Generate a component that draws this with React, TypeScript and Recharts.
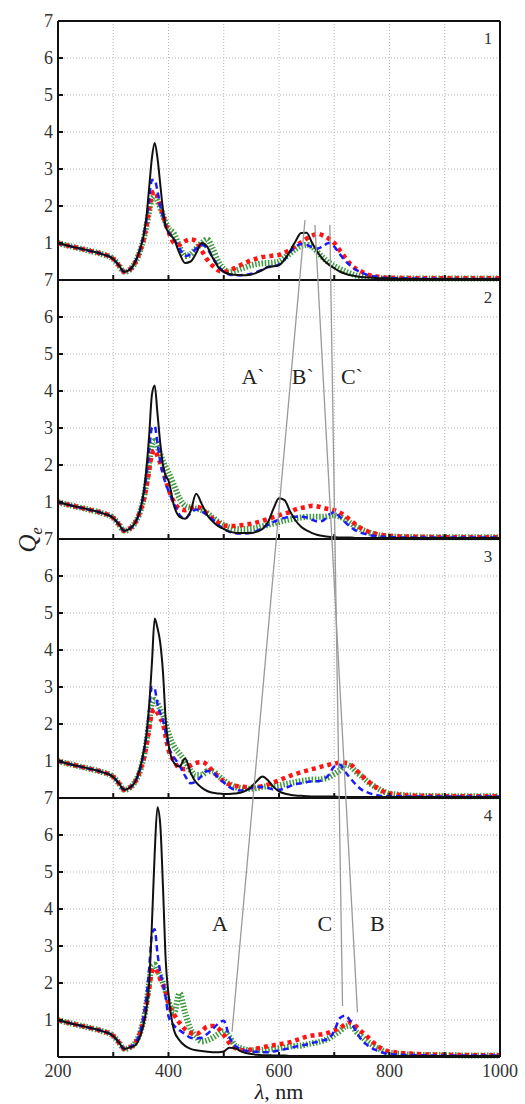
import React from "react";
import { LineChart, Line, XAxis, YAxis, CartesianGrid } from "recharts";

// Extinction efficiency Q_e vs wavelength, four stacked panels.
// Shared wavelength grid (nm), finer around the 370-400 nm resonance.
const WAVELENGTHS = [
  200, 220, 240, 260, 280, 300, 310, 320, 330,
  340, 350, 355, 360, 365, 370, 375, 380, 385, 390, 395,
  400, 410, 420, 430, 440, 450, 460, 470, 480, 490,
  500, 510, 520, 530, 540, 550, 560, 570, 580, 590,
  600, 610, 620, 630, 640, 650, 660, 670, 680, 690,
  700, 710, 720, 730, 740, 750, 760, 770, 780, 790,
  800, 850, 900, 950, 1000,
];

// panel 1
const P1_SOLID = [
  1.0, 0.92, 0.85, 0.78, 0.7, 0.57, 0.4, 0.22, 0.28,
  0.5, 0.9, 1.2, 1.7, 2.5, 3.3, 3.7, 3.3, 2.6, 1.9, 1.45,
  1.28, 1.1, 0.72, 0.46, 0.5, 0.72, 1.0, 0.9, 0.6, 0.35,
  0.22, 0.16, 0.14, 0.13, 0.13, 0.15, 0.2, 0.27, 0.35, 0.37,
  0.4, 0.55, 0.78, 1.05, 1.27, 1.28, 1.0, 0.75, 0.55, 0.42,
  0.32, 0.23, 0.17, 0.13, 0.1, 0.08, 0.07, 0.06, 0.05, 0.05,
  0.04, 0.03, 0.03, 0.03, 0.03,
];
const P1_DASH = [
  1.0, 0.92, 0.85, 0.78, 0.7, 0.57, 0.4, 0.22, 0.28,
  0.5, 0.9, 1.2, 1.6, 2.2, 2.7, 2.7, 2.4, 2.0, 1.7, 1.45,
  1.3, 1.1, 0.85, 0.65, 0.7, 0.85, 0.95, 0.85, 0.6, 0.38,
  0.22, 0.15, 0.13, 0.13, 0.14, 0.17, 0.22, 0.28, 0.35, 0.37,
  0.42, 0.55, 0.75, 0.9, 0.97, 0.95, 0.88, 0.85, 0.92, 1.0,
  0.9, 0.7, 0.52, 0.38, 0.27, 0.2, 0.14, 0.1, 0.08, 0.06,
  0.05, 0.04, 0.03, 0.03, 0.03,
];
const P1_DOT = [
  1.0, 0.92, 0.85, 0.78, 0.7, 0.57, 0.4, 0.22, 0.28,
  0.48, 0.85, 1.1, 1.45, 1.9, 2.3, 2.4, 2.25, 2.0, 1.75, 1.5,
  1.3, 1.0, 0.95, 1.05, 1.1, 1.05, 0.8, 0.55, 0.38, 0.26,
  0.22, 0.26, 0.32, 0.4, 0.47, 0.54, 0.58, 0.62, 0.64, 0.66,
  0.68, 0.74, 0.82, 0.92, 1.02, 1.12, 1.2, 1.25, 1.2, 1.12,
  1.0, 0.8, 0.6, 0.42, 0.3, 0.22, 0.15, 0.11, 0.09, 0.07,
  0.06, 0.05, 0.05, 0.05, 0.05,
];
const P1_HATCH = [
  1.0, 0.92, 0.85, 0.78, 0.7, 0.57, 0.4, 0.22, 0.28,
  0.48, 0.85, 1.1, 1.45, 1.85, 2.2, 2.25, 2.15, 1.95, 1.75, 1.55,
  1.4, 1.25, 0.9, 0.65, 0.7, 0.85, 1.0, 1.1, 0.85, 0.5,
  0.3, 0.22, 0.25, 0.3, 0.35, 0.4, 0.43, 0.45, 0.46, 0.47,
  0.5, 0.6, 0.72, 0.84, 0.92, 0.95, 0.9, 0.75, 0.6, 0.47,
  0.38, 0.3, 0.23, 0.17, 0.12, 0.09, 0.07, 0.06, 0.05, 0.05,
  0.04, 0.04, 0.04, 0.04, 0.04,
];

// panel 2
const P2_SOLID = [
  1.0, 0.92, 0.85, 0.78, 0.7, 0.57, 0.4, 0.22, 0.28,
  0.45, 0.85, 1.25, 1.9, 2.8, 3.9, 4.15, 3.4, 2.6, 2.0, 1.7,
  1.58, 0.9, 0.6, 0.55, 0.75, 1.22, 0.95, 0.65, 0.47, 0.35,
  0.27, 0.2, 0.17, 0.16, 0.16, 0.16, 0.2, 0.27, 0.45, 0.82,
  1.1, 1.05, 0.75, 0.5, 0.33, 0.23, 0.16, 0.11, 0.08, 0.06,
  0.05, 0.04, 0.04, 0.04, 0.03, 0.03, 0.03, 0.03, 0.03, 0.03,
  0.03, 0.03, 0.03, 0.03, 0.03,
];
const P2_DASH = [
  1.0, 0.92, 0.85, 0.78, 0.7, 0.57, 0.4, 0.22, 0.28,
  0.45, 0.85, 1.2, 1.7, 2.4, 3.0, 3.05, 2.6, 2.1, 1.75, 1.5,
  1.3, 0.95, 0.65, 0.55, 0.7, 0.8, 0.75, 0.65, 0.52, 0.38,
  0.27, 0.2, 0.16, 0.15, 0.15, 0.17, 0.22, 0.3, 0.38, 0.46,
  0.52, 0.57, 0.6, 0.6, 0.6, 0.58, 0.52, 0.47, 0.5, 0.65,
  0.72, 0.6, 0.45, 0.32, 0.22, 0.16, 0.12, 0.09, 0.07, 0.06,
  0.05, 0.04, 0.04, 0.04, 0.04,
];
const P2_DOT = [
  1.0, 0.92, 0.85, 0.78, 0.7, 0.57, 0.4, 0.22, 0.28,
  0.45, 0.8, 1.05, 1.4, 1.85, 2.3, 2.4, 2.25, 2.05, 1.85, 1.6,
  1.35, 1.0, 0.82, 0.78, 0.83, 0.87, 0.82, 0.68, 0.55, 0.44,
  0.37, 0.35, 0.35, 0.37, 0.39, 0.41, 0.45, 0.49, 0.54, 0.59,
  0.64, 0.69, 0.73, 0.8, 0.84, 0.87, 0.9, 0.88, 0.84, 0.81,
  0.78, 0.72, 0.62, 0.5, 0.38, 0.28, 0.21, 0.16, 0.12, 0.1,
  0.08, 0.06, 0.05, 0.05, 0.05,
];
const P2_HATCH = [
  1.0, 0.92, 0.85, 0.78, 0.7, 0.57, 0.4, 0.22, 0.28,
  0.45, 0.8, 1.1, 1.5, 2.05, 2.55, 2.65, 2.5, 2.3, 2.1, 1.95,
  1.8, 1.45, 1.1, 0.9, 0.85, 0.82, 0.78, 0.7, 0.58, 0.47,
  0.38, 0.32, 0.28, 0.27, 0.27, 0.28, 0.3, 0.34, 0.38, 0.42,
  0.46, 0.5, 0.53, 0.56, 0.58, 0.6, 0.6, 0.6, 0.6, 0.62,
  0.64, 0.6, 0.52, 0.42, 0.33, 0.25, 0.19, 0.14, 0.1, 0.08,
  0.07, 0.05, 0.05, 0.05, 0.05,
];

// panel 3
const P3_SOLID = [
  1.0, 0.92, 0.85, 0.78, 0.7, 0.57, 0.4, 0.22, 0.28,
  0.45, 0.9, 1.25, 1.7, 2.5, 3.65, 4.85, 4.6, 4.2, 3.4, 2.1,
  1.45, 0.95, 0.85, 1.07, 0.68, 0.42, 0.28, 0.19, 0.14, 0.12,
  0.11, 0.11, 0.12, 0.14, 0.2, 0.3, 0.46, 0.58, 0.48, 0.3,
  0.18, 0.12, 0.09, 0.07, 0.06, 0.05, 0.04, 0.04, 0.04, 0.04,
  0.04, 0.03, 0.03, 0.03, 0.03, 0.03, 0.03, 0.03, 0.03, 0.03,
  0.03, 0.03, 0.03, 0.03, 0.03,
];
const P3_DASH = [
  1.0, 0.92, 0.85, 0.78, 0.7, 0.57, 0.4, 0.22, 0.28,
  0.45, 0.85, 1.2, 1.7, 2.4, 3.0, 2.95, 2.55, 2.3, 2.1, 1.75,
  1.4, 1.1, 0.88, 0.6, 0.4, 0.45, 0.6, 0.73, 0.7, 0.55,
  0.42, 0.3, 0.22, 0.2, 0.22, 0.27, 0.3, 0.3, 0.27, 0.23,
  0.22, 0.26, 0.32, 0.37, 0.4, 0.43, 0.45, 0.45, 0.5, 0.62,
  0.85, 0.9, 0.7, 0.52, 0.35, 0.22, 0.15, 0.1, 0.07, 0.05,
  0.05, 0.04, 0.04, 0.04, 0.04,
];
const P3_DOT = [
  1.0, 0.92, 0.85, 0.78, 0.7, 0.57, 0.4, 0.22, 0.28,
  0.45, 0.8, 1.05, 1.4, 1.85, 2.3, 2.4, 2.3, 2.15, 2.0, 1.65,
  1.3, 1.0, 0.8, 0.78, 0.88, 0.95, 0.97, 0.9, 0.72, 0.58,
  0.45, 0.37, 0.33, 0.31, 0.3, 0.3, 0.3, 0.32, 0.36, 0.42,
  0.48, 0.54, 0.6, 0.65, 0.7, 0.74, 0.78, 0.82, 0.86, 0.9,
  0.93, 0.95, 0.95, 0.9, 0.75, 0.6, 0.47, 0.35, 0.25, 0.17,
  0.12, 0.06, 0.05, 0.05, 0.05,
];
const P3_HATCH = [
  1.0, 0.92, 0.85, 0.78, 0.7, 0.57, 0.4, 0.22, 0.28,
  0.45, 0.8, 1.1, 1.5, 2.05, 2.55, 2.65, 2.55, 2.4, 2.25, 2.0,
  1.75, 1.4, 1.2, 1.0, 0.75, 0.62, 0.62, 0.72, 0.72, 0.6,
  0.48, 0.38, 0.3, 0.27, 0.25, 0.25, 0.27, 0.3, 0.32, 0.33,
  0.34, 0.37, 0.4, 0.43, 0.46, 0.48, 0.5, 0.5, 0.52, 0.56,
  0.65, 0.75, 0.9, 0.85, 0.7, 0.58, 0.45, 0.34, 0.25, 0.17,
  0.12, 0.06, 0.05, 0.05, 0.05,
];

// panel 4
const P4_SOLID = [
  1.0, 0.92, 0.85, 0.78, 0.7, 0.57, 0.4, 0.22, 0.26,
  0.32, 0.62, 0.9, 1.3, 2.0, 3.6, 5.5, 6.75, 6.3, 4.6, 2.6,
  1.7, 0.72, 0.45, 0.3, 0.22, 0.18, 0.16, 0.14, 0.13, 0.13,
  0.15, 0.25, 0.24, 0.16, 0.11, 0.08, 0.06, 0.05, 0.05, 0.04,
  0.04, 0.04, 0.03, 0.03, 0.03, 0.03, 0.03, 0.03, 0.03, 0.03,
  0.03, 0.03, 0.03, 0.03, 0.03, 0.03, 0.03, 0.03, 0.03, 0.03,
  0.03, 0.03, 0.03, 0.03, 0.03,
];
const P4_DASH = [
  1.0, 0.92, 0.85, 0.78, 0.7, 0.57, 0.4, 0.22, 0.26,
  0.38, 0.75, 1.1, 1.6, 2.4, 3.3, 3.45, 2.8, 2.3, 2.0, 1.6,
  1.1, 0.85, 0.72, 0.62, 0.52, 0.5, 0.52, 0.62, 0.76, 0.9,
  0.98, 0.55, 0.31, 0.22, 0.17, 0.15, 0.14, 0.13, 0.13, 0.15,
  0.18, 0.21, 0.24, 0.28, 0.31, 0.34, 0.38, 0.41, 0.45, 0.5,
  0.7, 1.05, 1.12, 0.95, 0.68, 0.45, 0.32, 0.22, 0.16, 0.11,
  0.08, 0.05, 0.04, 0.04, 0.04,
];
const P4_DOT = [
  1.0, 0.92, 0.85, 0.78, 0.7, 0.57, 0.4, 0.22, 0.26,
  0.38, 0.72, 1.0, 1.4, 1.85, 2.3, 2.4, 2.3, 2.1, 1.95, 1.75,
  1.45, 1.15, 0.92, 0.75, 0.65, 0.62, 0.7, 0.82, 0.84, 0.78,
  0.6, 0.38, 0.25, 0.2, 0.18, 0.2, 0.23, 0.26, 0.29, 0.32,
  0.34, 0.37, 0.4, 0.45, 0.5, 0.55, 0.58, 0.6, 0.62, 0.66,
  0.72, 0.78, 0.88, 0.94, 0.82, 0.68, 0.55, 0.4, 0.28, 0.2,
  0.15, 0.08, 0.06, 0.05, 0.05,
];
const P4_HATCH = [
  1.0, 0.92, 0.85, 0.78, 0.7, 0.57, 0.4, 0.22, 0.26,
  0.38, 0.72, 1.0, 1.45, 2.0, 2.45, 2.5, 2.35, 2.2, 2.0, 1.75,
  1.5, 1.2, 1.72, 1.2, 0.75, 0.55, 0.42, 0.45, 0.52, 0.62,
  0.7, 0.55, 0.32, 0.24, 0.2, 0.18, 0.18, 0.19, 0.2, 0.22,
  0.24, 0.26, 0.28, 0.3, 0.31, 0.34, 0.37, 0.4, 0.44, 0.5,
  0.6, 0.7, 0.82, 0.85, 0.68, 0.55, 0.42, 0.32, 0.23, 0.15,
  0.11, 0.06, 0.05, 0.04, 0.04,
];

const PANELS = [
  { name: "1", solid: P1_SOLID, dash: P1_DASH, dot: P1_DOT, hatch: P1_HATCH },
  { name: "2", solid: P2_SOLID, dash: P2_DASH, dot: P2_DOT, hatch: P2_HATCH },
  { name: "3", solid: P3_SOLID, dash: P3_DASH, dot: P3_DOT, hatch: P3_HATCH },
  { name: "4", solid: P4_SOLID, dash: P4_DASH, dot: P4_DOT, hatch: P4_HATCH },
];

const X_TICKS = [200, 300, 400, 500, 600, 700, 800, 900, 1000];
const X_LABELED = [200, 400, 600, 800, 1000];
const Y_TICKS = [1, 2, 3, 4, 5, 6, 7];

// guide lines between peaks: [panel, wavelength, Qe]
const GUIDES = [
  { from: [0, 647, 1.62], to: [3, 515, 0.68] },
  { from: [0, 665, 1.49], to: [3, 742, 1.21] },
  { from: [0, 692, 1.49], to: [3, 715, 1.38] },
];
const PEAK_LABELS = [
  { text: "A`", panel: 1, wl: 553, q: 4.4 },
  { text: "B`", panel: 1, wl: 643, q: 4.4 },
  { text: "C`", panel: 1, wl: 732, q: 4.4 },
  { text: "A", panel: 3, wl: 493, q: 3.62 },
  { text: "C", panel: 3, wl: 683, q: 3.62 },
  { text: "B", panel: 3, wl: 778, q: 3.62 },
];

// layout
const W = 525;
const H = 1104;
const LEFT = 58;
const RIGHT = 500;
const PANEL_TOPS = [21, 280, 539, 798];
const PANEL_H = 259;
const PAD = 14;
const SERIF = "'Liberation Serif', 'Times New Roman', serif";
const TICK = 5;
const INK = "#111";

const px = (wl: number) => LEFT + ((wl - 200) / 800) * (RIGHT - LEFT);
const py = (panel: number, q: number) => PANEL_TOPS[panel] + ((7 - q) / 7) * PANEL_H;

function LeftTick(props: any) {
  const { y, payload } = props;
  return (
    <g>
      <line x1={LEFT} y1={y} x2={LEFT + TICK} y2={y} stroke={INK} strokeWidth={2} />
      <text x={LEFT - 5} y={y} dy="0.35em" textAnchor="end" fontSize={18} fill="#333" fontFamily={SERIF}>
        {payload.value}
      </text>
    </g>
  );
}

function RightTick(props: any) {
  const { y } = props;
  return <line x1={RIGHT} y1={y} x2={RIGHT - TICK} y2={y} stroke={INK} strokeWidth={2} />;
}

function BottomTick(props: any) {
  const { x, y, payload, showLabel } = props;
  return (
    <g>
      <line x1={x} y1={y} x2={x} y2={y - TICK} stroke={INK} strokeWidth={2} />
      {showLabel && X_LABELED.includes(payload.value) ? (
        <text x={x} y={y + 20} textAnchor="middle" fontSize={18} fill="#333" fontFamily={SERIF}>
          {payload.value}
        </text>
      ) : null}
    </g>
  );
}

function TopTick(props: any) {
  const { x, y } = props;
  return <line x1={x} y1={y} x2={x} y2={y + TICK} stroke={INK} strokeWidth={2} />;
}

function Panel({ index }: { index: number }) {
  const p = PANELS[index];
  const last = index === PANELS.length - 1;
  const rows = WAVELENGTHS.map((wl, i) => ({
    wl,
    solid: p.solid[i],
    dash: p.dash[i],
    dot: p.dot[i],
    hatch: p.hatch[i],
  }));
  const bottomPad = last ? 30 : PAD;
  const frame = { stroke: INK, strokeWidth: 2 };

  return (
    <div style={{ position: "absolute", left: 0, top: PANEL_TOPS[index] - PAD }}>
      <LineChart
        width={W}
        height={PAD + PANEL_H + bottomPad}
        data={rows}
        margin={{ top: PAD - 1, right: W - RIGHT - 1, bottom: bottomPad - 1, left: 0 }}
      >
        <CartesianGrid stroke="#b5b5b5" strokeDasharray="1 2" />
        <XAxis
          dataKey="wl"
          type="number"
          domain={[200, 1000]}
          ticks={X_TICKS}
          height={1}
          tickSize={0}
          tickMargin={0}
          axisLine={frame}
          tick={<BottomTick showLabel={last} />}
          interval={0}
        />
        <XAxis
          xAxisId="t"
          orientation="top"
          type="number"
          domain={[200, 1000]}
          ticks={X_TICKS}
          height={1}
          tickSize={0}
          tickMargin={0}
          axisLine={frame}
          tick={<TopTick />}
          interval={0}
        />
        <YAxis
          type="number"
          domain={[0, 7]}
          ticks={Y_TICKS}
          width={LEFT}
          tickSize={0}
          tickMargin={0}
          axisLine={frame}
          tick={<LeftTick />}
          interval={0}
        />
        <YAxis
          yAxisId="r"
          orientation="right"
          type="number"
          domain={[0, 7]}
          ticks={Y_TICKS}
          width={1}
          tickSize={0}
          tickMargin={0}
          axisLine={frame}
          tick={<RightTick />}
          interval={0}
        />
        <Line dataKey="hatch" type="monotone" stroke="#3f9a3f" strokeWidth={6} strokeDasharray="1.5 1.7" dot={false} isAnimationActive={false} />
        <Line dataKey="dot" type="monotone" stroke="#ff1414" strokeWidth={4.5} strokeDasharray="4 4" dot={false} isAnimationActive={false} />
        <Line dataKey="dash" type="monotone" stroke="#1a1aff" strokeWidth={2.5} strokeDasharray="6 4" dot={false} isAnimationActive={false} />
        <Line dataKey="solid" type="monotone" stroke={INK} strokeWidth={2} dot={false} isAnimationActive={false} />
      </LineChart>
    </div>
  );
}

export default function App() {
  return (
    <div style={{ position: "absolute", left: 0, top: 0, width: W, height: H, background: "#fff" }}>
      {PANELS.map((_, i) => (
        <Panel key={i} index={i} />
      ))}
      <svg
        width={W}
        height={H}
        style={{ position: "absolute", left: 0, top: 0, pointerEvents: "none" }}
        fontFamily={SERIF}
      >
        {GUIDES.map((g, i) => (
          <line
            key={i}
            x1={px(g.from[1])}
            y1={py(g.from[0], g.from[2])}
            x2={px(g.to[1])}
            y2={py(g.to[0], g.to[2])}
            stroke="#9a9a9a"
            strokeWidth={1.3}
          />
        ))}
        {PEAK_LABELS.map((l) => (
          <text key={l.text} x={px(l.wl)} y={py(l.panel, l.q)} dy="0.35em" textAnchor="middle" fontSize={22} fill="#222">
            {l.text}
          </text>
        ))}
        {PANELS.map((p, i) => (
          <text key={p.name} x={488} y={PANEL_TOPS[i] + 23} textAnchor="middle" fontSize={17} fill="#333">
            {p.name}
          </text>
        ))}
        <text x={36} y={540} transform="rotate(-90 36 540)" textAnchor="middle" fontSize={25} fill="#222">
          <tspan fontStyle="italic">Q</tspan>
          <tspan fontStyle="italic" fontSize={16} dy={6}>e</tspan>
        </text>
        <text x={279} y={1099} textAnchor="middle" fontSize={22} fill="#222">
          <tspan fontStyle="italic">λ</tspan>, nm
        </text>
      </svg>
    </div>
  );
}
